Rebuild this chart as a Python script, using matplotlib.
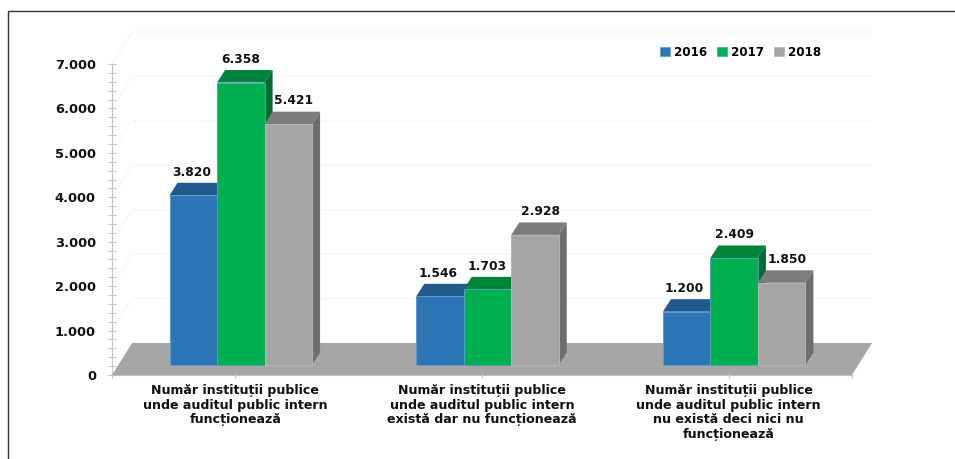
"""
Institutii publice / audit public intern, pseudo-3D grouped bars.
Run: python plot.py
Output: out.png
"""
import matplotlib
matplotlib.use("Agg")
import matplotlib.pyplot as plt
from matplotlib.lines import Line2D
from matplotlib.patches import Patch
from matplotlib.ticker import MultipleLocator

# Data
categories = [
    "Număr instituții publice\nunde auditul public intern\nfuncționează",
    "Număr instituții publice\nunde auditul public intern\nexistă dar nu funcționează",
    "Număr instituții publice\nunde auditul public intern\nnu există deci nici nu\nfuncționează",
]
years = ["2016", "2017", "2018"]
values_2016 = [3820, 1546, 1200]
values_2017 = [6358, 1703, 2409]
values_2018 = [5421, 2928, 1850]
y_ticks = [0, 1000, 2000, 3000, 4000, 5000, 6000, 7000]

# Style: front, top, side colours per series
FRONT = ["#2E75B6", "#00B050", "#A5A5A5"]
TOP = ["#215A8C", "#00843C", "#7C7C7C"]
SIDE = ["#1B4A75", "#006B33", "#6E6E6E"]
EDGE = ["#5B9BD5", "#4BA3B8", "#B5B5B5"]
LABEL_SHIFT = [-2, 0, 5]  # px, sideways shift of value labels
GRID = "#F5F5F5"
AXIS = "#C4C4C4"

# Pixel scales of the axes box
W, H = 955, 459
AX_LEFT, AX_RIGHT, AX_BOTTOM, AX_TOP = 112, 852, 375, 64
PX_X = 3 / (AX_RIGHT - AX_LEFT)
PX_Y = 7000 / (AX_BOTTOM - AX_TOP)

BAR_W = 47.5 * PX_X
BAR_DX, BAR_DY = 8 * PX_X, 12.5 * PX_Y      # bar depth
BASE_DX, BASE_DY = 5.5 * PX_X, 10 * PX_Y    # bars stand inside the floor
WALL_DX, WALL_DY = 20 * PX_X, 32 * PX_Y     # floor depth

fig = plt.figure(figsize=(W / 100, H / 100), dpi=100)
ax = fig.add_axes([AX_LEFT / W, 1 - AX_BOTTOM / H, (AX_RIGHT - AX_LEFT) / W, (AX_BOTTOM - AX_TOP) / H])
ax.set_xlim(-0.5, 2.5)
ax.set_ylim(0, 7000)

# Floor
ax.fill([-0.5, 2.5, 2.5 + WALL_DX, -0.5 + WALL_DX], [0, 0, WALL_DY, WALL_DY],
        color="#A6A6A6", lw=0, zorder=1, clip_on=False)

# Back wall grid lines
for t in y_ticks[1:]:
    ax.plot([-0.5, -0.5 + WALL_DX, 2.5 + WALL_DX], [t, t + WALL_DY, t + WALL_DY],
            color=GRID, lw=0.8, zorder=0, clip_on=False)

# Bars
series = [values_2016, values_2017, values_2018]
for s, vals in enumerate(series):
    z = 2 + s
    for c, val in enumerate(vals):
        x0 = c + BASE_DX + (s - 1.5) * BAR_W
        x1 = x0 + BAR_W
        y0 = BASE_DY
        y1 = BASE_DY + val
        ax.bar(x0, val, width=BAR_W, bottom=y0, align="edge", color=FRONT[s],
               edgecolor=EDGE[s], linewidth=0.7, zorder=z + 0.2)
        ax.fill([x0, x1, x1 + BAR_DX, x0 + BAR_DX], [y1, y1, y1 + BAR_DY, y1 + BAR_DY],
                color=TOP[s], lw=0, zorder=z)
        ax.fill([x1, x1 + BAR_DX, x1 + BAR_DX, x1], [y0, y0 + BAR_DY, y1 + BAR_DY, y1],
                color=SIDE[s], lw=0, zorder=z)
        label = f"{val:,}".replace(",", ".")
        ax.annotate(label, (x0 + BAR_W / 2, y1 + BAR_DY), xytext=(LABEL_SHIFT[s] * 0.72, 3),
                    textcoords="offset points", ha="center", va="bottom",
                    fontsize=8.8, fontweight="bold", color="#111111", zorder=10,
                    annotation_clip=False)

# Axes
for side in ["top", "right"]:
    ax.spines[side].set_visible(False)
for side in ["left", "bottom"]:
    ax.spines[side].set_color(AXIS)
    ax.spines[side].set_linewidth(0.8)
    ax.spines[side].set_zorder(1.5)

ax.set_yticks(y_ticks)
ax.set_yticklabels([f"{t:,}".replace(",", ".") for t in y_ticks],
                   fontsize=9.4, fontweight="bold", color="#111111")
ax.yaxis.set_minor_locator(MultipleLocator(200))
ax.tick_params(axis="y", which="both", direction="inout", color=AXIS, width=0.8, length=6)
ax.tick_params(axis="y", which="major", pad=8.6)

ax.set_xticks(range(3))
ax.set_xticklabels(categories, fontsize=9.1, fontweight="bold",
                   color="#111111", linespacing=1.16)
ax.set_xticks([-0.5, 2.5], minor=True)
ax.tick_params(axis="x", which="both", direction="inout", color=AXIS, width=0.8, length=5, pad=4)

# Legend
handles = [Patch(facecolor=FRONT[i], edgecolor=EDGE[i], linewidth=0.5, label=years[i]) for i in range(3)]
fig.legend(handles=handles, loc="center left", bbox_to_anchor=(656.5 / W, 1 - 52 / H), ncol=3, frameon=False,
           prop={"size": 8.6, "weight": "bold"}, handlelength=0.85, handleheight=0.75,
           handletextpad=0.35, columnspacing=0.8, borderpad=0.3, borderaxespad=0)

# Frame of the picture: only top and left
fig.add_artist(Line2D([8 / W, 8 / W, 1], [0, 1 - 11 / H, 1 - 11 / H], color="#333333", lw=1))

fig.savefig("out.png", dpi=100)
